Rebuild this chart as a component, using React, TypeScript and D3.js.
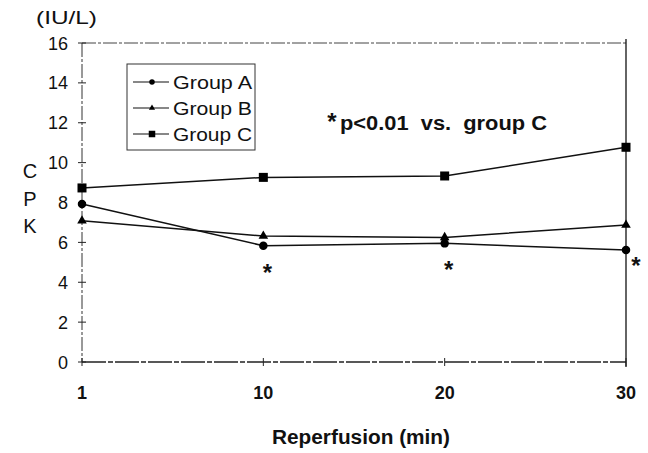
import React from "react";
import * as d3 from "d3";

const xLabels = ["1", "10", "20", "30"];
const groupA = [7.92, 5.83, 5.95, 5.62];
const groupB = [7.08, 6.32, 6.25, 6.87];
const groupC = [8.73, 9.26, 9.33, 10.77];
const yTicks = [0, 2, 4, 6, 8, 10, 12, 14, 16];
const seriesNames = ["Group A", "Group B", "Group C"];
const markerKinds = ["circle", "triangle", "square"];
const sigLabels = ["", "*", "*", "*"];

const W = 648;
const H = 453;
const FONT = "'Liberation Sans', Arial, Helvetica, sans-serif";

function Marker({ kind, cx, cy, s }: { kind: string; cx: number; cy: number; s: number }) {
  if (kind === "circle") return <circle cx={cx} cy={cy} r={s * 0.5} fill="#000" />;
  if (kind === "square")
    return <rect x={cx - s / 2} y={cy - s / 2} width={s} height={s} fill="#000" />;
  const sym = d3.symbol().type(d3.symbolTriangle).size(s * s * 0.55)();
  return <path d={sym || ""} transform={`translate(${cx},${cy})`} fill="#000" />;
}

export default function App() {
  const x = d3.scalePoint<string>().domain(xLabels).range([82, 626]);
  const y = d3.scaleLinear().domain([0, 16]).range([362, 43]);
  const series = [groupA, groupB, groupC];
  const line = d3
    .line<number>()
    .x((_, i) => x(xLabels[i]) as number)
    .y((d) => y(d));

  const x0 = x(xLabels[0]) as number;
  const x1 = x(xLabels[xLabels.length - 1]) as number;
  const yTop = y(16);
  const yBot = y(0);

  const sigOffsets = [
    [0, 0],
    [4, 22],
    [4, 22],
    [10, 11],
  ];

  return (
    <svg
      width={W}
      height={H}
      style={{ position: "absolute", left: 0, top: 0, background: "#fff" }}
      fontFamily={FONT}
    >
      <rect x={0} y={0} width={W} height={H} fill="#fff" />
      {/* frame */}
      <line x1={x0} x2={x1} y1={yTop} y2={yTop} stroke="#444" strokeWidth={1} strokeDasharray="14 2 3 2" />
      <line x1={x0} x2={x0} y1={yTop} y2={yBot} stroke="#333" strokeWidth={1} strokeDasharray="14 2 3 2" />
      <line x1={x0} x2={x1} y1={yBot} y2={yBot} stroke="#222" strokeWidth={1.3} strokeDasharray="24 2 5 2" />
      <line x1={x1} x2={x1} y1={yTop - 4} y2={yBot + 5} stroke="#111" strokeWidth={1.3} />

      {/* y ticks */}
      {yTicks.map((t) => (
        <g key={"yt" + t}>
          <line x1={x0 - 4} x2={x0 + 4} y1={y(t)} y2={y(t)} stroke="#222" strokeWidth={1} />
          <text x={68} y={y(t) + 6.5} fontSize={18} textAnchor="end" fill="#111">
            {t}
          </text>
        </g>
      ))}

      {/* x ticks */}
      {xLabels.map((l) => (
        <g key={"xt" + l}>
          <line x1={x(l)} x2={x(l)} y1={yBot - 4} y2={yBot + 4} stroke="#222" strokeWidth={1} />
          <text x={x(l)} y={399} fontSize={18} fontWeight="bold" textAnchor="middle" fill="#111">
            {l}
          </text>
        </g>
      ))}

      {/* series lines */}
      {series.map((s, si) => (
        <path key={"ln" + si} d={line(s) || ""} fill="none" stroke="#111" strokeWidth={1.5} />
      ))}
      {series.map((s, si) =>
        s.map((v, i) => (
          <Marker
            key={`m${si}-${i}`}
            kind={markerKinds[si]}
            cx={x(xLabels[i]) as number}
            cy={y(v)}
            s={si === 2 ? 9 : 8.5}
          />
        ))
      )}

      {/* significance asterisks */}
      {sigLabels.map((l, i) =>
        l ? (
          <text
            key={"sig" + i}
            x={(x(xLabels[i]) as number) + sigOffsets[i][0]}
            y={y(groupA[i]) + sigOffsets[i][1] + 13}
            fontSize={24}
            fontWeight="bold"
            textAnchor="middle"
            fill="#111"
          >
            {l}
          </text>
        ) : null
      )}

      {/* legend */}
      <rect x={127} y={64} width={128} height={86} fill="#fff" stroke="#333" strokeWidth={1} />
      {seriesNames.map((n, i) => {
        const cy = 82 + i * 26;
        return (
          <g key={"lg" + i}>
            <line x1={133} x2={169} y1={cy} y2={cy} stroke="#111" strokeWidth={1.2} />
            <Marker kind={markerKinds[i]} cx={152} cy={cy} s={i === 2 ? 6.5 : 5.5} />
            <text x={173} y={cy + 6.5} fontSize={19} textLength={79} lengthAdjust="spacingAndGlyphs" fill="#111">
              {n}
            </text>
          </g>
        );
      })}

      {/* annotation */}
      <text x={332} y={130} fontSize={24} fontWeight="bold" textAnchor="middle" fill="#111">
        *
      </text>
      <text x={340} y={130} fontSize={20} fontWeight="bold" textLength={207} lengthAdjust="spacingAndGlyphs" fill="#111" xmlSpace="preserve">
        {"p<0.01  vs.  group C"}
      </text>

      {/* axis titles */}
      <text x={36} y={24} fontSize={19} textLength={61} lengthAdjust="spacingAndGlyphs" fill="#111">
        (IU/L)
      </text>
      {["C", "P", "K"].map((c, i) => (
        <text key={"cpk" + c} x={30} y={178 + i * 27.5} fontSize={20} textAnchor="middle" fill="#111">
          {c}
        </text>
      ))}
      <text x={272} y={444} fontSize={20} fontWeight="bold" textLength={178} lengthAdjust="spacingAndGlyphs" fill="#111">
        Reperfusion (min)
      </text>
    </svg>
  );
}
